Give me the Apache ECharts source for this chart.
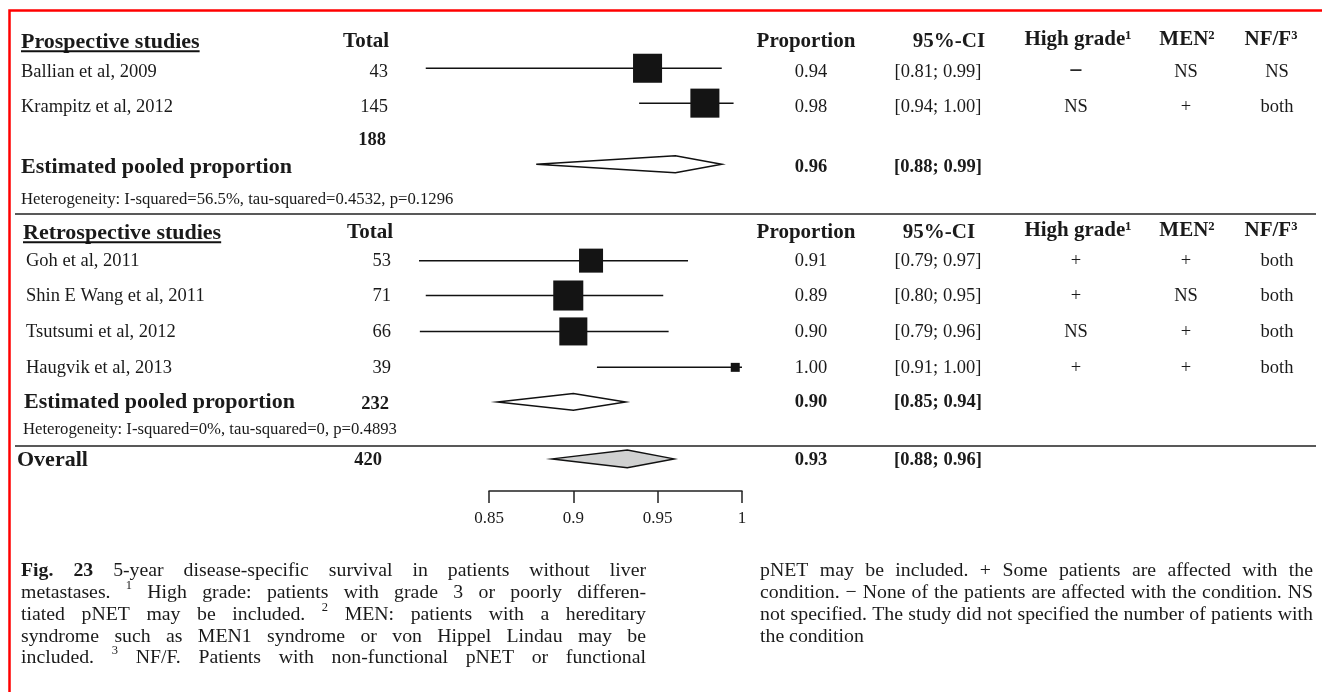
<!DOCTYPE html>
<html><head><meta charset="utf-8">
<script src="https://cdn.jsdelivr.net/npm/echarts@6/dist/echarts.min.js"></script>
<style>html,body{margin:0;padding:0;background:#fff}#c{width:1322px;height:692px}</style>
</head><body><div id="c"></div>
<script>
// ================= DATA =================
const sectionTitles = ['Prospective studies', 'Retrospective studies'];
const columnHeaders = ['Total', 'Proportion', '95%-CI', 'High grade\u00b9', 'MEN\u00b2', 'NF/F\u00b3'];

const prospStudies = ['Ballian et al, 2009', 'Krampitz et al, 2012'];
const prospTotals = [43, 145];
const prospEst = [0.944, 0.978];
const prospLo = [0.8125, 0.939];
const prospHi = [0.988, 0.995];
const prospWeight = [20.9, 20.9];
const prospPropText = ['0.94', '0.98'];
const prospCIText = ['[0.81; 0.99]', '[0.94; 1.00]'];
const prospHighGrade = ['\u2212', 'NS'];
const prospMEN = ['NS', '+'];
const prospNFF = ['NS', 'both'];

const retroStudies = ['Goh et al, 2011', 'Shin E Wang et al, 2011', 'Tsutsumi et al, 2012', 'Haugvik et al, 2013'];
const retroTotals = [53, 71, 66, 39];
const retroEst = [0.9105, 0.897, 0.90, 0.996];
const retroLo = [0.8085, 0.8125, 0.809, 0.914];
const retroHi = [0.968, 0.9533, 0.9565, 1.0];
const retroWeight = [14.3, 22.4, 19.5, 2.0];
const retroPropText = ['0.91', '0.89', '0.90', '1.00'];
const retroCIText = ['[0.79; 0.97]', '[0.80; 0.95]', '[0.79; 0.96]', '[0.91; 1.00]'];
const retroHighGrade = ['+', '+', 'NS', '+'];
const retroMEN = ['+', 'NS', '+', '+'];
const retroNFF = ['both', 'both', 'both', 'both'];

const pooledLabels = ['Estimated pooled proportion', 'Estimated pooled proportion', 'Overall'];
const pooledTotals = [188, 232, 420];
const pooledEst = [0.9605, 0.900, 0.932];
const pooledLo = [0.878, 0.855, 0.8875];
const pooledHi = [0.988, 0.931, 0.9597];
const pooledPropText = ['0.96', '0.90', '0.93'];
const pooledCIText = ['[0.88; 0.99]', '[0.85; 0.94]', '[0.88; 0.96]'];
const heterogeneity = [
  'Heterogeneity: I-squared=56.5%, tau-squared=0.4532, p=0.1296',
  'Heterogeneity: I-squared=0%, tau-squared=0, p=0.4893'
];

const xTicks = [0.85, 0.9, 0.95, 1];
const xTickLabels = ['0.85', '0.9', '0.95', '1'];

const captionLeft = [
  [{t:'Fig.',b:1},{t:'23',b:1},'5-year','disease-specific','survival','in','patients','without','liver'],
  ['metastases.',{t:'1',sup:1},'High','grade:','patients','with','grade','3','or','poorly','differen-'],
  ['tiated','pNET','may','be','included.',{t:'2',sup:1},'MEN:','patients','with','a','hereditary'],
  ['syndrome','such','as','MEN1','syndrome','or','von','Hippel','Lindau','may','be'],
  ['included.',{t:'3',sup:1},'NF/F.','Patients','with','non-functional','pNET','or','functional']
];
const captionRight = [
  ['pNET','may','be','included.','+','Some','patients','are','affected','with','the'],
  ['condition.','\u2212','None','of','the','patients','are','affected','with','the','condition.','NS'],
  ['not','specified.','The','study','did','not','specified','the','number','of','patients','with'],
  ['the','condition']
];

// ================= LAYOUT =================
const FONT = '"Liberation Serif", "Times New Roman", serif';
const INK = '#1a1a1a';
const ROW = { h1: 0, s1: [0.87, 1.88], tot1: 2.84, pool1: 3.62, het1: 4.55, sep1: 4.98,
  h2: 5.53, s2: [6.34, 7.35, 8.39, 9.44], pool2: 10.42, tot2: 10.5, het2: 11.22, sep2: 11.70, all: 12.10 };
const MARKROW = { s1: [0.76, 1.77], s2: [6.33, 7.34, 8.38, 9.42], pool: [3.54, 10.42, 12.07] };
const COL = { prop: 811, ci: 938, hg: 1076, men: 1186, nff: 1277 };

// ================= CELLS =================
const cells = [];
function T(row, x, text, o) { cells.push(Object.assign({ kind: 'text', row, x, text, size: 18.5, weight: 'normal', align: 'left' }, o || {})); }
function H(row) { cells.push({ kind: 'hline', row }); }

function headerRow(row, sec, lx, totX, ciHX) {
  T(row, lx, sectionTitles[sec], { size: 22, weight: 'bold', underline: true });
  T(row, totX, columnHeaders[0], { size: 21, weight: 'bold', align: 'right' });
  T(row, 806, columnHeaders[1], { size: 21, weight: 'bold', align: 'center' });
  T(row, ciHX, columnHeaders[2], { size: 21, weight: 'bold', align: 'center' });
  T(row - 0.06, 1078, columnHeaders[3], { size: 21, weight: 'bold', align: 'center' });
  T(row - 0.06, 1187, columnHeaders[4], { size: 21, weight: 'bold', align: 'center' });
  T(row - 0.06, 1271, columnHeaders[5], { size: 21, weight: 'bold', align: 'center' });
}
function studyRows(rows, lx, totX, names, totals, props, cis, hg, men, nff) {
  names.forEach((n, i) => {
    const r = rows[i];
    T(r, lx, n);
    T(r, totX, String(totals[i]), { align: 'right' });
    T(r, COL.prop, props[i], { align: 'center' });
    T(r, COL.ci, cis[i], { align: 'center' });
    T(r, COL.hg, hg[i], hg[i] === '\u2212' ? { align: 'center', size: 24, weight: 'bold' } : { align: 'center' });
    T(r, COL.men, men[i], { align: 'center' });
    T(r, COL.nff, nff[i], { align: 'center' });
  });
}
function pooledRow(row, totRow, k, lx, totX) {
  T(row, lx, pooledLabels[k], { size: 22, weight: 'bold' });
  T(totRow, totX, String(pooledTotals[k]), { weight: 'bold', align: 'right' });
  T(row, COL.prop, pooledPropText[k], { weight: 'bold', align: 'center' });
  T(row, COL.ci, pooledCIText[k], { weight: 'bold', align: 'center' });
}

headerRow(ROW.h1, 0, 21, 389, 949);
studyRows(ROW.s1, 21, 388, prospStudies, prospTotals, prospPropText, prospCIText, prospHighGrade, prospMEN, prospNFF);
pooledRow(ROW.pool1, ROW.tot1, 0, 21, 386);
T(ROW.het1, 21, heterogeneity[0], { size: 16.7 });
H(ROW.sep1);
headerRow(ROW.h2, 1, 23, 393, 939);
studyRows(ROW.s2, 26, 391, retroStudies, retroTotals, retroPropText, retroCIText, retroHighGrade, retroMEN, retroNFF);
pooledRow(ROW.pool2, ROW.tot2, 1, 24, 389);
T(ROW.het2, 23, heterogeneity[1], { size: 16.7 });
H(ROW.sep2);
pooledRow(ROW.all, ROW.all, 2, 17, 382);

// measuring helper
const mctx = document.createElement('canvas').getContext('2d');
function measure(text, size, weight) { mctx.font = `${weight} ${size}px ${FONT}`; return mctx.measureText(text).width; }

// ================= SERIES DATA =================
const studyData = [];
prospEst.forEach((e, i) => studyData.push([e, MARKROW.s1[i], prospLo[i], prospHi[i], prospWeight[i]]));
retroEst.forEach((e, i) => studyData.push([e, MARKROW.s2[i], retroLo[i], retroHi[i], retroWeight[i]]));
const pooledData = pooledEst.map((e, i) => [e, MARKROW.pool[i], pooledLo[i], pooledHi[i], i === 2 ? 1 : 0]);

// ================= CAPTION (justified) =================
const graphics = [];
graphics.push({ type: 'rect', silent: true, shape: { x: 9.5, y: 10.5, width: 2000, height: 2000 },
  style: { fill: 'none', stroke: '#ff0000', lineWidth: 2.5 }, z: 100 });
function layCaption(lines, x0, x1, lastJustify) {
  const size = 19.8;
  lines.forEach((words, li) => {
    const toks = words.map(w => typeof w === 'string' ? { t: w } : w);
    toks.forEach(k => { k.size = k.sup ? 12.5 : size; k.weight = k.b ? 'bold' : 'normal'; k.w = measure(k.t, k.size, k.weight); });
    const total = toks.reduce((s, k) => s + k.w, 0);
    const justify = li < lines.length - 1 || lastJustify;
    const gap = justify ? (x1 - x0 - total) / (toks.length - 1) : measure(' ', size, 'normal');
    let x = x0;
    const y = 571 + li * 21.8;
    toks.forEach(k => {
      graphics.push({ type: 'text', silent: true, x: x, y: k.sup ? y - 7 : y,
        style: { text: k.t, fill: INK, fontFamily: FONT, fontSize: k.size, fontWeight: k.weight, align: 'left', verticalAlign: 'middle' } });
      x += k.w + gap;
    });
  });
}
layCaption(captionLeft, 21, 646, true);
layCaption(captionRight, 760, 1313, false);

// ================= CHART =================
const chart = echarts.init(document.getElementById('c'), null, { renderer: 'canvas' });
chart.setOption({
  animation: false,
  backgroundColor: '#ffffff',
  grid: { left: 489, right: 580, top: 42, bottom: 201, containLabel: false },
  xAxis: {
    type: 'value', position: 'bottom', min: 0.85, max: 1, interval: 0.05,
    axisLine: { show: true, onZero: false, lineStyle: { color: '#222', width: 1.5 } },
    axisTick: { show: true, length: 12, lineStyle: { color: '#222', width: 1.5 } },
    splitLine: { show: false },
    axisLabel: { margin: 19, color: INK, fontFamily: FONT, fontSize: 17,
      formatter: v => { const i = xTicks.findIndex(t => Math.abs(t - v) < 1e-6); return i >= 0 ? xTickLabels[i] : ''; } }
  },
  yAxis: { type: 'value', min: 0, max: 13, inverse: true, show: false },
  series: [
    {
      type: 'custom', name: 'studies', clip: false, data: studyData,
      encode: { x: [0, 2, 3], y: 1 },
      renderItem: (params, api) => {
        const row = api.value(1);
        const c = api.coord([api.value(0), row]);
        const lo = api.coord([api.value(2), row]);
        const hi = api.coord([api.value(3), row]);
        const s = 6.35 * Math.sqrt(api.value(4));
        return { type: 'group', children: [
          { type: 'line', shape: { x1: lo[0], y1: c[1], x2: hi[0], y2: c[1] }, style: { stroke: '#111', lineWidth: 1.5 } },
          { type: 'rect', shape: { x: c[0] - s / 2, y: c[1] - s / 2, width: s, height: s }, style: { fill: '#141414', stroke: null } }
        ] };
      }
    },
    {
      type: 'custom', name: 'pooled', clip: false, data: pooledData,
      encode: { x: [0, 2, 3], y: 1 },
      renderItem: (params, api) => {
        const row = api.value(1);
        const c = api.coord([api.value(0), row]);
        const lo = api.coord([api.value(2), row]);
        const hi = api.coord([api.value(3), row]);
        const gray = api.value(4) === 1;
        const h = gray ? 8.8 : 8.4;
        return { type: 'polygon', shape: { points: [[lo[0], c[1]], [c[0], c[1] - h], [hi[0], c[1]], [c[0], c[1] + h]] },
          style: { fill: gray ? '#d0d1d1' : '#ffffff', stroke: '#111', lineWidth: 1.5, lineJoin: 'miter' } };
      }
    },
    {
      type: 'custom', name: 'table', clip: false, data: cells.map(c => [0.85, c.row]),
      encode: { x: 0, y: 1 },
      renderItem: (params, api) => {
        const cell = cells[params.dataIndex];
        const y = api.coord([0.85, api.value(1)])[1];
        if (cell.kind === 'hline') {
          return { type: 'line', shape: { x1: 15, y1: y, x2: 1316, y2: y }, style: { stroke: '#222', lineWidth: 1.5 } };
        }
        const children = [{ type: 'text', x: cell.x, y: y,
          style: { text: cell.text, fill: INK, fontFamily: FONT, fontSize: cell.size, fontWeight: cell.weight, align: cell.align, verticalAlign: 'middle' } }];
        if (cell.underline) {
          const w = measure(cell.text, cell.size, cell.weight);
          const uy = y + cell.size * 0.42;
          children.push({ type: 'line', shape: { x1: cell.x, y1: uy, x2: cell.x + w, y2: uy }, style: { stroke: '#111', lineWidth: 2 } });
        }
        return { type: 'group', children };
      }
    }
  ],
  graphic: graphics
});
</script>
</body></html>
